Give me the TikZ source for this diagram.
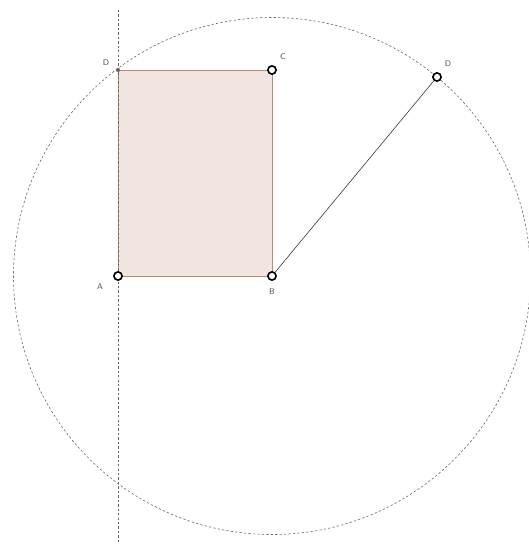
\documentclass[tikz,border=0pt]{standalone}
\usepackage{tikz}
\usetikzlibrary{positioning, calc}
\definecolor{rectfill}{HTML}{F2E4DE}
\definecolor{rectline}{HTML}{B98A76}
\definecolor{guide}{HTML}{666666}
\tikzset{
  pt/.style={circle, draw=black, fill=white, line width=1.4pt, inner sep=0pt, minimum size=7pt},
  smallpt/.style={circle, fill=guide, inner sep=0pt, minimum size=3.5pt},
  guideline/.style={guide, dash pattern=on 2pt off 1.8pt, line width=0.5pt},
  lbl/.style={font=\sffamily\scriptsize, text=black!70}
}
\begin{document}
\begin{tikzpicture}[x=0.03cm, y=-0.03cm]
      \useasboundingbox (0,0) rectangle (528,544);
      % Construction lines
      \draw[guideline] (272,276) circle[radius=258.5];
      \coordinate (top) at (118,10);
      \coordinate (bot) at (118,544);
      % Rectangle
      \coordinate (a) at (118,276);
      \coordinate (b) at (272,276);
      \coordinate (c) at (272,70);
      \coordinate (d) at (118,70);
      \fill[rectfill] (a) rectangle (c);
      \draw[rectline, line width=0.6pt] (a) -- (b) -- (c) -- (d) -- cycle;
      \draw[guideline] (top) -- (bot);
      % Points
      \node[pt] (A) at (a) {};
      \node[pt] (B) at (b) {};
      \node[pt] (C) at (c) {};
      \node[smallpt] (D) at (d) {};
      \node[pt] (Dp) at (437,77) {};
      \draw[black!80, line width=0.5pt] (B) -- (Dp);
      % Labels
      \node[lbl] at (100,287) {A};
      \node[lbl] at (272,292) {B};
      \node[lbl] at (283,57) {C};
      \node[lbl] at (106,63) {D};
      \node[lbl] at (448,64) {D};
    \end{tikzpicture}
\end{document}
